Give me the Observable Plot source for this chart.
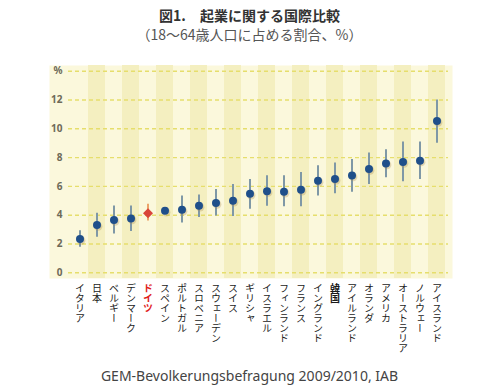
<!DOCTYPE html>
<html>
<head>
<meta charset="utf-8">
<script src="https://cdn.jsdelivr.net/npm/d3@7"></script>
<script src="https://cdn.jsdelivr.net/npm/@observablehq/plot@0.6"></script>
<style>
  html, body { margin: 0; padding: 0; background: #ffffff; width: 499px; height: 390px; overflow: hidden; }
  body { position: relative; font-family: "Noto Sans CJK JP", "Noto Sans", sans-serif; }
  #title { position: absolute; top: 5px; left: 0; width: 499px; text-align: center; font-size: 14px; font-weight: bold; color: #333; line-height: 20px; }
  #subtitle { position: absolute; top: 24px; left: 0; width: 499px; text-align: center; font-size: 14px; color: #555; line-height: 20px; }
  #chart { position: absolute; top: 50px; left: 0; }
  #chart svg { overflow: visible; }
  #caption { position: absolute; top: 366px; left: 0; width: 499px; text-align: center; font-family: "Noto Sans", sans-serif; font-size: 14px; color: #444; line-height: 20px; }
  #chart g[aria-label="x-axis tick label"] text { writing-mode: vertical-rl; font-family: "Noto Sans CJK JP", sans-serif; }
</style>
</head>
<body>
<div id="title">図1.　起業に関する国際比較</div>
<div id="subtitle">（18～64歳人口に占める割合、%）</div>
<div id="chart"></div>
<div id="caption">GEM-Bevolkerungsbefragung 2009/2010, IAB</div>
<script>
const countries = ["イタリア","日本","ベルギー","デンマーク","ドイツ","スペイン","ポルトガル","スロベニア","スウェーデン","スイス","ギリシャ","イスラエル","フィンランド","フランス","イングランド","韓国","アイルランド","オランダ","アメリカ","オーストラリア","ノルウェー","アイスランド"];
const values = [2.34,3.31,3.66,3.77,4.14,4.30,4.37,4.66,4.85,5.00,5.49,5.67,5.63,5.77,6.39,6.52,6.76,7.21,7.59,7.70,7.79,10.55];
const lows   = [1.77,2.46,2.69,2.87,3.60,4.15,3.45,3.83,3.95,3.90,4.41,4.62,4.59,4.59,5.33,5.49,5.60,6.14,6.60,6.32,6.48,9.00];
const highs  = [2.92,4.14,4.64,4.64,4.76,4.45,5.33,5.40,5.79,6.14,6.48,6.74,6.74,6.97,7.43,7.63,7.86,8.32,8.55,9.08,9.08,12.00];
const yTicks = [0,2,4,6,8,10,12,14];
const highlight = "ドイツ";

const data = countries.map((c, i) => ({country: c, value: values[i], lo: lows[i], hi: highs[i], idx: i}));
const others = data.filter(d => d.country !== highlight);
const germany = data.filter(d => d.country === highlight);

const chart = Plot.plot({
  width: 499,
  height: 310,
  marginTop: 15,
  marginBottom: 82,
  marginLeft: 68,
  marginRight: 51,
  x: {type: "band", domain: countries, padding: 0},
  y: {domain: [-0.4, 14.4]},
  marks: [
    Plot.frame({fill: "#fbf8dc", stroke: null, insetLeft: -19, insetRight: -4}),
    Plot.cell(data.filter(d => d.idx % 2 === 1), {x: "country", fill: "#f4efc0"}),
    Plot.ruleY(yTicks, {stroke: "#e6de6c", strokeWidth: 1.4, strokeDasharray: "4,3"}),
    Plot.axisY({ticks: yTicks, tickSize: 0, tickPadding: 6, tickFormat: d => d === 14 ? "%" : String(d), fontSize: 10, fontWeight: "bold", color: "#6e6a58"}),
    Plot.axisX({tickSize: 0, tickPadding: 5, textAnchor: "start", fontSize: 10, fontFamily: "Noto Sans CJK JP", color: "#1a1a1a", label: null}),
    Plot.ruleX(others, {x: "country", y1: "lo", y2: "hi", stroke: "#7f98a6", strokeWidth: 2}),
    Plot.ruleX(germany, {x: "country", y1: "lo", y2: "hi", stroke: "#eca46a", strokeWidth: 2}),
    Plot.dot(others, {x: "country", y: "value", r: 4.2, dx: 1.2, dy: 1.5, fill: "#a8894c", fillOpacity: 0.3}),
    Plot.dot(others, {x: "country", y: "value", r: 4, fill: "#1f4f8a"}),
    Plot.dot(germany, {x: "country", y: "value", r: 4.5, symbol: "diamond2", fill: "#d9453a"})
  ]
});

const labels = d3.select(chart).selectAll('g[aria-label="x-axis tick label"] text');
labels.attr("dy", null).attr("y", null);
labels.each(function () {
  const t = this.textContent;
  if (t === highlight) { d3.select(this).attr("fill", "#e0201a").attr("font-weight", "bold"); }
  if (t === "韓国") { d3.select(this).attr("font-weight", "bold"); }
});

document.getElementById("chart").appendChild(chart);
</script>
</body>
</html>
